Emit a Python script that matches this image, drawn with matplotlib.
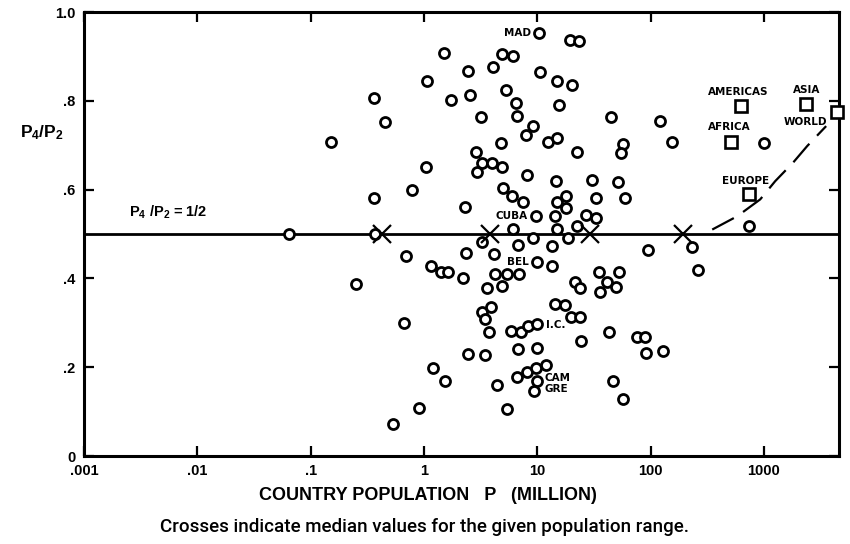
import matplotlib
matplotlib.use("Agg")
import matplotlib.pyplot as plt

plt.rcParams['font.family'] = ['Liberation Sans', 'DejaVu Sans']
plt.rcParams['mathtext.fontset'] = 'custom'
plt.rcParams['mathtext.bf'] = 'Liberation Sans:bold'
plt.rcParams['mathtext.rm'] = 'Liberation Sans:bold'
plt.rcParams['mathtext.it'] = 'Liberation Sans:bold'

# Country population (million) and P4/P2 ratio
pop = [0.0638, 0.150, 0.249, 0.366, 0.457, 0.366, 0.373, 0.701, 0.673, 0.792,
       1.05, 1.07, 1.49, 1.75, 2.47, 2.57, 3.21, 4.10, 4.92, 6.15,
       5.34, 6.54, 6.68, 9.24, 8.01, 10.4, 10.6, 15.0, 20.4, 15.4,
       12.5, 15.0, 4.83, 2.90, 3.28, 4.02, 4.92, 2.96, 8.18, 14.7,
       5.02, 6.03, 7.54, 2.28, 18.1, 15.0, 18.1, 19.6, 23.5, 45.0,
       122, 57.4, 55.1, 155, 22.6, 30.6, 51.9, 33.2, 59.8, 9.82,
       14.2, 27.1, 33.2, 22.6, 6.15, 15.0, 1006, 742, 3.28, 4.18,
       9.24, 18.8, 6.81, 13.6, 2.37, 10.0, 13.6, 1.16, 1.40, 1.64,
       2.23, 4.27, 5.45, 6.95, 3.63, 4.92, 95.4, 233, 263, 21.7,
       24.0, 35.3, 53.0, 41.5, 49.8, 36.0, 3.28, 3.94, 3.49, 3.78,
       5.91, 7.24, 8.35, 10.0, 14.4, 17.7, 20.0, 24.0, 43.2, 76.3,
       89.8, 24.5, 91.6, 129, 2.47, 3.49, 6.81, 10.0, 1.19, 1.52,
       4.45, 6.68, 8.18, 9.82, 12.0, 10.0, 9.43, 46.9, 57.4, 0.913,
       5.45, 0.528]
ratio = [0.500, 0.707, 0.388, 0.806, 0.752, 0.580, 0.501, 0.451, 0.300, 0.600,
         0.650, 0.844, 0.907, 0.801, 0.867, 0.813, 0.763, 0.876, 0.905, 0.901,
         0.824, 0.795, 0.765, 0.743, 0.722, 0.953, 0.865, 0.844, 0.835, 0.790,
         0.707, 0.716, 0.704, 0.684, 0.659, 0.661, 0.652, 0.639, 0.634, 0.619,
         0.603, 0.585, 0.571, 0.560, 0.585, 0.571, 0.558, 0.937, 0.935, 0.763,
         0.754, 0.702, 0.682, 0.707, 0.684, 0.621, 0.616, 0.580, 0.582, 0.540,
         0.540, 0.542, 0.537, 0.519, 0.512, 0.512, 0.704, 0.519, 0.483, 0.456,
         0.490, 0.492, 0.476, 0.472, 0.458, 0.438, 0.429, 0.429, 0.415, 0.415,
         0.402, 0.411, 0.411, 0.411, 0.379, 0.384, 0.465, 0.470, 0.420, 0.393,
         0.379, 0.415, 0.415, 0.393, 0.381, 0.370, 0.325, 0.336, 0.309, 0.280,
         0.282, 0.280, 0.293, 0.298, 0.343, 0.341, 0.312, 0.314, 0.280, 0.269,
         0.269, 0.260, 0.233, 0.237, 0.230, 0.228, 0.242, 0.244, 0.199, 0.169,
         0.160, 0.178, 0.190, 0.199, 0.205, 0.169, 0.147, 0.169, 0.129, 0.108,
         0.106, 0.072]

# Labelled countries
country_labels = ['MAD', 'CUBA', 'BEL', 'I.C.', 'CAM', 'GRE']
country_pop = [10.4, 9.82, 10.0, 10.0, 10.0, 9.43]
country_ratio = [0.953, 0.540, 0.438, 0.298, 0.169, 0.147]

# Regions (squares)
region_labels = ['AMERICAS', 'AFRICA', 'EUROPE', 'ASIA', 'WORLD']
region_pop = [623, 509, 732, 2367, 4450]
region_ratio = [0.788, 0.707, 0.589, 0.792, 0.774]

# Median crosses
median_pop = [0.43, 3.86, 29.4, 194]
median_ratio = [0.50, 0.50, 0.50, 0.50]

# Dashed trend curve
curve_pop = [350, 582, 928, 1258, 1813, 2409, 3543]
curve_ratio = [0.510, 0.540, 0.578, 0.619, 0.661, 0.698, 0.743]

xticks = [0.001, 0.01, 0.1, 1, 10, 100, 1000]
xtick_labels = ['.001', '.01', '.1', '1', '10', '100', '1000']
yticks = [0, 0.2, 0.4, 0.6, 0.8, 1.0]
ytick_labels = ['0', '.2', '.4', '.6', '.8', '1.0']

fig = plt.figure(figsize=(8.5, 5.44), dpi=100)
ax = fig.add_axes([84/850, 1-456/544, (839-84)/850, (456-12)/544])
ax.set_xscale('log')
ax.set_xlim(0.001, 4600)
ax.set_ylim(0, 1.0)

ax.axhline(0.5, color='black', lw=2, zorder=2)
ax.plot(pop, ratio, 'o', ms=7.2, mfc='white', mec='black', mew=2.0, zorder=3)
ax.plot(region_pop, region_ratio, 's', ms=8.5, mfc='white', mec='black', mew=1.9,
        zorder=4, clip_on=False)
ax.plot(median_pop, median_ratio, 'x', ms=13, mec='black', mew=1.6, zorder=5)
ax.plot(curve_pop, curve_ratio, color='black', lw=1.6, ls=(0, (11, 5)), zorder=2)

lab_font = dict(fontsize=7.5, fontweight='bold', family='DejaVu Sans', color='black')
c_off = {'MAD': (-6, 0, 'right'), 'CUBA': (-6, 0, 'right'), 'BEL': (-6, 0, 'right'),
         'I.C.': (6, -1, 'left'), 'CAM': (5, 2, 'left'), 'GRE': (7, 1, 'left')}
for name, x, y in zip(country_labels, country_pop, country_ratio):
    dx, dy, ha = c_off[name]
    ax.annotate(name, (x, y), xytext=(dx, dy), textcoords='offset points',
                ha=ha, va='center', **lab_font)
r_off = {'AMERICAS': (-2, 10), 'AFRICA': (-1, 11), 'EUROPE': (-2, 10),
         'ASIA': (0, 10), 'WORLD': (-23, -7)}
for name, x, y in zip(region_labels, region_pop, region_ratio):
    dx, dy = r_off[name]
    ax.annotate(name, (x, y), xytext=(dx, dy), textcoords='offset points',
                ha='center', va='center', **lab_font)

ax.text(0.0025, 0.548, r'$\mathbf{P_4}$ $\mathbf{/P_2}$ = 1/2', fontsize=10.5,
        fontweight='bold', ha='left', va='center')

ax.set_xticks(xticks)
ax.set_xticklabels(xtick_labels)
ax.set_yticks(yticks)
ax.set_yticklabels(ytick_labels)
ax.minorticks_off()
ax.tick_params(direction='in', length=7, width=1.6, top=True, right=True,
               labelsize=10.5, pad=6)
for t in ax.get_xticklabels() + ax.get_yticklabels():
    t.set_fontweight('bold')
for s in ax.spines.values():
    s.set_linewidth(2.2)

fig.text(42/850, 1-133/544, r'$\mathbf{P_4/P_2}$', fontsize=12.5, ha='center', va='center')
fig.text(428/850, 1-496/544, 'COUNTRY POPULATION   P   (MILLION)', fontsize=13,
         fontweight='bold', ha='center', va='center')
fig.text(425/850, 1-527/544, 'Crosses indicate median values for the given population range.',
         fontsize=13.5, family='Roboto', fontweight='medium', ha='center', va='center')

fig.savefig('out.png', dpi=100, facecolor='white')
